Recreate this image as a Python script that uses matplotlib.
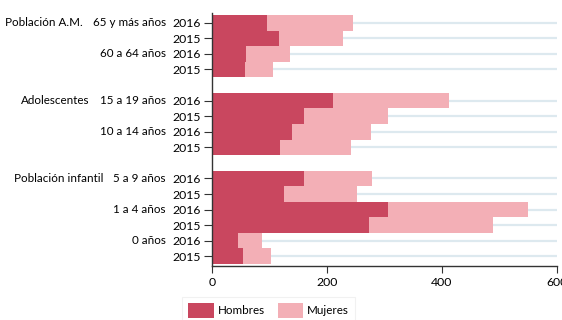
import matplotlib.pyplot as plt
from matplotlib.transforms import blended_transform_factory

# Población por grupo de edad y sexo, 2015-2016
grupos = ["Población A.M.", "Adolescentes", "Población infantil"]
subgrupos = [
    ["65 y más años", "60 a 64 años"],
    ["15 a 19 años", "10 a 14 años"],
    ["5 a 9 años", "1 a 4 años", "0 años"],
]
anios = ["2016", "2015"]

hombres = [95, 116, 59, 57,
           211, 160, 139, 119,
           161, 126, 306, 273, 45, 54]
mujeres = [150, 112, 76, 50,
           202, 146, 138, 123,
           117, 126, 243, 216, 43, 48]

c_hombres = "#C9475F"
c_mujeres = "#F3AFB6"
c_grid = "#DDE9EF"

plt.rcParams["font.family"] = ["Lato", "DejaVu Sans"]
fs = 8.4

fig = plt.figure(figsize=(5.62, 3.2), dpi=100)
ax = fig.add_axes([0.377, 0.169, 0.614, 0.79])

# row positions, with an empty slot between groups
pos = []
labels = []
sub_pos = []
slot = 0
for g, subs in enumerate(subgrupos):
    for s, name in enumerate(subs):
        sub_pos.append((slot, name, grupos[g] if s == 0 else None))
        for a in anios:
            pos.append(slot)
            labels.append(a)
            slot += 1
    slot += 1

for y in pos:
    ax.axhline(y, color=c_grid, lw=1.6, zorder=0)

ax.barh(pos, hombres, height=1.0, color=c_hombres, label="Hombres", zorder=2)
ax.barh(pos, mujeres, left=hombres, height=1.0, color=c_mujeres,
        label="Mujeres", zorder=2)

ax.set_ylim(pos[-1] + 0.62, -0.62)
ax.set_xlim(0, 600)
ax.set_yticks(pos)
ax.set_yticklabels(labels, fontsize=fs + 0.4)
ax.set_xticks([0, 200, 400, 600])
ax.tick_params(axis="x", labelsize=fs + 0.4, length=5, color="#333333", pad=3)
ax.tick_params(axis="y", length=6, color="#333333", pad=2)
for side in ["top", "right"]:
    ax.spines[side].set_visible(False)
for side in ["left", "bottom"]:
    ax.spines[side].set_color("#333333")
    ax.spines[side].set_linewidth(1.0)

tr = blended_transform_factory(fig.transFigure, ax.transData)
pares = []
for y, name, grupo in sub_pos:
    t_sub = ax.text(0.295, y, name, transform=tr, ha="right", va="center",
                    fontsize=fs, clip_on=False)
    if grupo:
        t_grp = ax.text(0.2, y, grupo, transform=tr, ha="right", va="center",
                        fontsize=fs, clip_on=False)
        pares.append((t_sub, t_grp))

# group labels sit just left of their first subgroup label
fig.canvas.draw()
r = fig.canvas.get_renderer()
for t_sub, t_grp in pares:
    bb = t_sub.get_window_extent(r)
    t_grp.set_x((bb.x0 - 10) / fig.bbox.width)

leg = fig.legend(loc="upper left", bbox_to_anchor=(182 / 562, 1 - 297 / 320),
                 borderaxespad=0, ncol=2, fontsize=fs, frameon=True,
                 fancybox=False, edgecolor="#EEEEEE", handlelength=2.2,
                 handleheight=1.6, borderpad=0.5, columnspacing=1.1,
                 handletextpad=0.35)
leg.get_frame().set_linewidth(0.8)

fig.savefig("out.png", dpi=100)
